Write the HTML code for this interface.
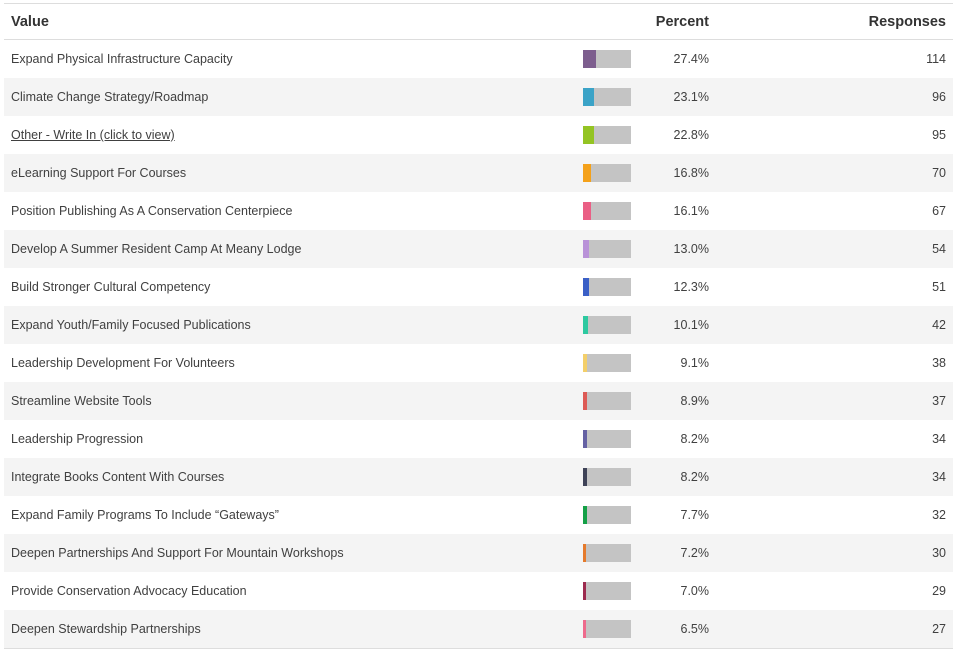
<!DOCTYPE html>
<html><head><style>
body{margin:0;background:#fff;font-family:"Liberation Sans",sans-serif;color:#404040;}
.wrap{position:absolute;left:4px;top:3px;width:949px;border-top:1px solid #ddd;}
.hdr{height:35px;border-bottom:1px solid #ddd;position:relative;font-size:14.5px;font-weight:bold;color:#333;}
.row{height:38px;position:relative;font-size:12.5px;}
.row:nth-child(even){background:#f4f4f4;}
.row span,.hdr span{position:absolute;top:50%;transform:translateY(-50%);white-space:nowrap;}
.v{left:7px}.p{right:244px}.r{right:7px}
.bar{position:absolute;left:579px;top:10px;width:48px;height:18px;background:#c4c4c4;}
.bar i{display:block;height:100%;}
.last{border-bottom:1px solid #ddd;}
a{color:#404040;text-decoration:underline;}
</style></head><body>
<div class="wrap">
<div class="hdr"><span class="v">Value</span><span class="p">Percent</span><span class="r">Responses</span></div>
<div>
<div class="row"><span class="v">Expand Physical Infrastructure Capacity</span><div class="bar"><i style="width:27.4%;background:#7d5e8e"></i></div><span class="p">27.4%</span><span class="r">114</span></div>
<div class="row"><span class="v">Climate Change Strategy/Roadmap</span><div class="bar"><i style="width:23.1%;background:#3ba3c7"></i></div><span class="p">23.1%</span><span class="r">96</span></div>
<div class="row"><span class="v"><a>Other - Write In (click to view)</a></span><div class="bar"><i style="width:22.8%;background:#94c423"></i></div><span class="p">22.8%</span><span class="r">95</span></div>
<div class="row"><span class="v">eLearning Support For Courses</span><div class="bar"><i style="width:16.8%;background:#f4a11a"></i></div><span class="p">16.8%</span><span class="r">70</span></div>
<div class="row"><span class="v">Position Publishing As A Conservation Centerpiece</span><div class="bar"><i style="width:16.1%;background:#ea5f85"></i></div><span class="p">16.1%</span><span class="r">67</span></div>
<div class="row"><span class="v">Develop A Summer Resident Camp At Meany Lodge</span><div class="bar"><i style="width:13%;background:#b992d8"></i></div><span class="p">13.0%</span><span class="r">54</span></div>
<div class="row"><span class="v">Build Stronger Cultural Competency</span><div class="bar"><i style="width:12.3%;background:#3a5fc6"></i></div><span class="p">12.3%</span><span class="r">51</span></div>
<div class="row"><span class="v">Expand Youth/Family Focused Publications</span><div class="bar"><i style="width:10.1%;background:#2dc9a0"></i></div><span class="p">10.1%</span><span class="r">42</span></div>
<div class="row"><span class="v">Leadership Development For Volunteers</span><div class="bar"><i style="width:9.1%;background:#f3cf6a"></i></div><span class="p">9.1%</span><span class="r">38</span></div>
<div class="row"><span class="v">Streamline Website Tools</span><div class="bar"><i style="width:8.9%;background:#dd5a55"></i></div><span class="p">8.9%</span><span class="r">37</span></div>
<div class="row"><span class="v">Leadership Progression</span><div class="bar"><i style="width:8.2%;background:#6561a3"></i></div><span class="p">8.2%</span><span class="r">34</span></div>
<div class="row"><span class="v">Integrate Books Content With Courses</span><div class="bar"><i style="width:8.2%;background:#3e4257"></i></div><span class="p">8.2%</span><span class="r">34</span></div>
<div class="row"><span class="v">Expand Family Programs To Include “Gateways”</span><div class="bar"><i style="width:7.7%;background:#14a047"></i></div><span class="p">7.7%</span><span class="r">32</span></div>
<div class="row"><span class="v">Deepen Partnerships And Support For Mountain Workshops</span><div class="bar"><i style="width:7.2%;background:#e57a2c"></i></div><span class="p">7.2%</span><span class="r">30</span></div>
<div class="row"><span class="v">Provide Conservation Advocacy Education</span><div class="bar"><i style="width:7%;background:#9c2a4e"></i></div><span class="p">7.0%</span><span class="r">29</span></div>
<div class="row last"><span class="v">Deepen Stewardship Partnerships</span><div class="bar"><i style="width:6.5%;background:#ee6a8c"></i></div><span class="p">6.5%</span><span class="r">27</span></div>
</div></div>
</body></html>
